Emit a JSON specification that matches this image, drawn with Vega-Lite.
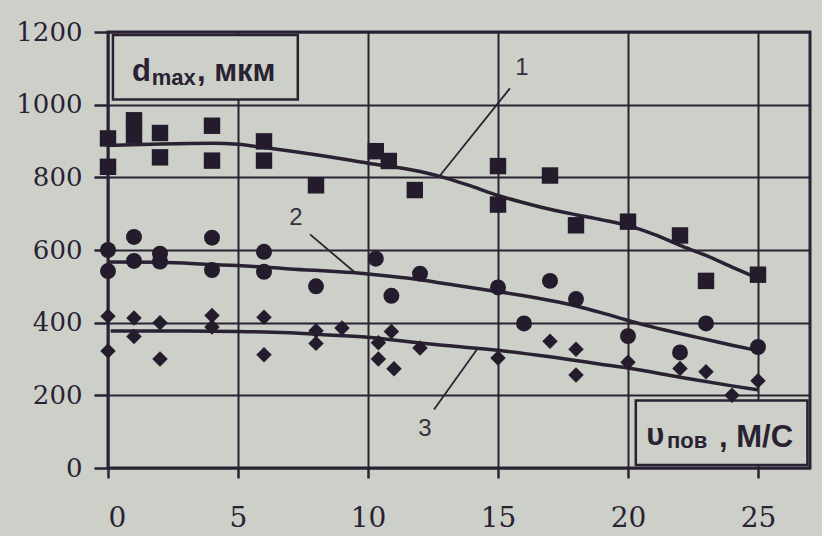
{
  "$schema": "https://vega.github.io/schema/vega-lite/v6.json",
  "width": 702,
  "height": 436,
  "autosize": {"type": "none"},
  "padding": {"left": 108, "top": 32, "right": 12, "bottom": 68},
  "background": "#cdd0c8",
  "config": {
    "view": {"fill": "#cdd0c8", "stroke": "#2a2233", "strokeWidth": 3},
    "axis": {
      "domain": false,
      "grid": true,
      "gridColor": "#2a2233",
      "gridOpacity": 1,
      "gridWidth": 2,
      "tickColor": "#2a2233",
      "tickWidth": 2.5,
      "labelColor": "#2a2233",
      "title": null
    }
  },
  "datasets": {
    "points": [
      {"series": "1", "x": 0, "y": 907}, {"series": "1", "x": 0, "y": 829},
      {"series": "1", "x": 1, "y": 957}, {"series": "1", "x": 1, "y": 916},
      {"series": "1", "x": 2, "y": 922}, {"series": "1", "x": 2, "y": 855},
      {"series": "1", "x": 4, "y": 942}, {"series": "1", "x": 4, "y": 846},
      {"series": "1", "x": 6, "y": 899}, {"series": "1", "x": 6, "y": 846},
      {"series": "1", "x": 8, "y": 778},
      {"series": "1", "x": 10.3, "y": 872}, {"series": "1", "x": 10.8, "y": 845},
      {"series": "1", "x": 11.8, "y": 765},
      {"series": "1", "x": 15, "y": 831}, {"series": "1", "x": 15, "y": 725},
      {"series": "1", "x": 17, "y": 805}, {"series": "1", "x": 18, "y": 668},
      {"series": "1", "x": 20, "y": 678}, {"series": "1", "x": 22, "y": 640},
      {"series": "1", "x": 23, "y": 515}, {"series": "1", "x": 25, "y": 532},
      {"series": "2", "x": 0, "y": 600}, {"series": "2", "x": 0, "y": 542},
      {"series": "2", "x": 1, "y": 636}, {"series": "2", "x": 1, "y": 570},
      {"series": "2", "x": 2, "y": 590}, {"series": "2", "x": 2, "y": 568},
      {"series": "2", "x": 4, "y": 634}, {"series": "2", "x": 4, "y": 545},
      {"series": "2", "x": 6, "y": 595}, {"series": "2", "x": 6, "y": 540},
      {"series": "2", "x": 8, "y": 500},
      {"series": "2", "x": 10.3, "y": 576}, {"series": "2", "x": 10.9, "y": 474},
      {"series": "2", "x": 12, "y": 535},
      {"series": "2", "x": 15, "y": 497}, {"series": "2", "x": 16, "y": 398},
      {"series": "2", "x": 17, "y": 515}, {"series": "2", "x": 18, "y": 465},
      {"series": "2", "x": 20, "y": 363}, {"series": "2", "x": 22, "y": 318},
      {"series": "2", "x": 23, "y": 398}, {"series": "2", "x": 25, "y": 333},
      {"series": "3", "x": 0, "y": 418}, {"series": "3", "x": 0, "y": 322},
      {"series": "3", "x": 1, "y": 413}, {"series": "3", "x": 1, "y": 362},
      {"series": "3", "x": 2, "y": 400}, {"series": "3", "x": 2, "y": 300},
      {"series": "3", "x": 4, "y": 420}, {"series": "3", "x": 4, "y": 388},
      {"series": "3", "x": 6, "y": 415}, {"series": "3", "x": 6, "y": 312},
      {"series": "3", "x": 8, "y": 378}, {"series": "3", "x": 8, "y": 343},
      {"series": "3", "x": 9, "y": 385},
      {"series": "3", "x": 10.4, "y": 345}, {"series": "3", "x": 10.4, "y": 300},
      {"series": "3", "x": 10.9, "y": 376}, {"series": "3", "x": 11, "y": 273},
      {"series": "3", "x": 12, "y": 330},
      {"series": "3", "x": 15, "y": 303}, {"series": "3", "x": 17, "y": 349},
      {"series": "3", "x": 18, "y": 327}, {"series": "3", "x": 18, "y": 256},
      {"series": "3", "x": 20, "y": 291}, {"series": "3", "x": 22, "y": 274},
      {"series": "3", "x": 23, "y": 265}, {"series": "3", "x": 24, "y": 200},
      {"series": "3", "x": 25, "y": 240}
    ],
    "curves": [
      {"series": "1", "x": 0, "y": 888}, {"series": "1", "x": 2, "y": 892},
      {"series": "1", "x": 4, "y": 894}, {"series": "1", "x": 5, "y": 891},
      {"series": "1", "x": 6, "y": 882}, {"series": "1", "x": 8, "y": 862},
      {"series": "1", "x": 10, "y": 839}, {"series": "1", "x": 12, "y": 816},
      {"series": "1", "x": 13, "y": 798}, {"series": "1", "x": 14, "y": 775},
      {"series": "1", "x": 15, "y": 750}, {"series": "1", "x": 16, "y": 730},
      {"series": "1", "x": 17, "y": 712}, {"series": "1", "x": 18, "y": 697},
      {"series": "1", "x": 19, "y": 683}, {"series": "1", "x": 20, "y": 667},
      {"series": "1", "x": 21, "y": 643}, {"series": "1", "x": 22, "y": 613},
      {"series": "1", "x": 23, "y": 585}, {"series": "1", "x": 24, "y": 553},
      {"series": "1", "x": 24.9, "y": 525},
      {"series": "2", "x": 0, "y": 567}, {"series": "2", "x": 2, "y": 566},
      {"series": "2", "x": 4, "y": 560}, {"series": "2", "x": 5, "y": 557},
      {"series": "2", "x": 7, "y": 548}, {"series": "2", "x": 10, "y": 534},
      {"series": "2", "x": 12, "y": 518}, {"series": "2", "x": 13, "y": 507},
      {"series": "2", "x": 15, "y": 485}, {"series": "2", "x": 16, "y": 474},
      {"series": "2", "x": 17, "y": 461}, {"series": "2", "x": 18, "y": 446},
      {"series": "2", "x": 19, "y": 427}, {"series": "2", "x": 20, "y": 406},
      {"series": "2", "x": 21, "y": 387}, {"series": "2", "x": 22, "y": 370},
      {"series": "2", "x": 23, "y": 354}, {"series": "2", "x": 24, "y": 338},
      {"series": "2", "x": 25, "y": 323},
      {"series": "3", "x": 0.1, "y": 377}, {"series": "3", "x": 3, "y": 377},
      {"series": "3", "x": 5, "y": 376}, {"series": "3", "x": 7, "y": 372},
      {"series": "3", "x": 8, "y": 368}, {"series": "3", "x": 10, "y": 360},
      {"series": "3", "x": 12, "y": 344}, {"series": "3", "x": 13, "y": 337},
      {"series": "3", "x": 15, "y": 324}, {"series": "3", "x": 17, "y": 306},
      {"series": "3", "x": 19, "y": 285}, {"series": "3", "x": 20, "y": 275},
      {"series": "3", "x": 22, "y": 250}, {"series": "3", "x": 24, "y": 226},
      {"series": "3", "x": 25, "y": 215}
    ],
    "boxes": [
      {"x": 0.19, "x2": 7.3, "y": 1014, "y2": 1192},
      {"x": 20.3, "x2": 26.9, "y": 8, "y2": 186}
    ],
    "leaders": [
      {"x": 15.46, "y": 1045, "x2": 12.77, "y2": 805},
      {"x": 7.77, "y": 643, "x2": 9.5, "y2": 538},
      {"x": 12.54, "y": 161, "x2": 14.23, "y2": 330}
    ],
    "curveLabels": [
      {"label": "1", "x": 15.92, "y": 1100},
      {"label": "2", "x": 7.23, "y": 687},
      {"label": "3", "x": 12.19, "y": 107}
    ],
    "boxText": [
      {"role": "main", "text": "d", "x": 0.92, "y": 1065},
      {"role": "sub", "text": "max", "x": 1.68, "y": 1053},
      {"role": "main", "text": ", мкм", "x": 3.42, "y": 1065},
      {"role": "main", "text": "υ", "x": 20.7, "y": 63},
      {"role": "sub", "text": "пов", "x": 21.5, "y": 55},
      {"role": "main", "text": ", М/С", "x": 23.5, "y": 58}
    ]
  },
  "encoding": {
    "x": {
      "type": "quantitative",
      "scale": {"domain": [0, 27], "nice": false, "zero": false},
      "axis": {"values": [0, 5, 10, 15, 20, 25], "format": "d", "tickSize": 10, "labelFont": "DejaVu Serif", "labelFontSize": 28, "labelPadding": 26}
    },
    "y": {
      "type": "quantitative",
      "scale": {"domain": [0, 1200], "nice": false},
      "axis": {"values": [0, 200, 400, 600, 800, 1000, 1200], "format": "d", "tickSize": 14, "labelFont": "DejaVu Serif", "labelFontSize": 26, "labelPadding": 12}
    }
  },
  "layer": [
    {
      "data": {"name": "boxes"},
      "mark": {"type": "rect", "fill": "#cdd0c8", "stroke": "#2a2233", "strokeWidth": 2.5},
      "encoding": {
        "x": {"field": "x", "type": "quantitative"},
        "x2": {"field": "x2"},
        "y": {"field": "y", "type": "quantitative"},
        "y2": {"field": "y2"}
      }
    },
    {
      "data": {"name": "curves"},
      "mark": {"type": "line", "color": "#2a2233", "strokeWidth": 3.5, "interpolate": "monotone"},
      "encoding": {
        "x": {"field": "x", "type": "quantitative"},
        "y": {"field": "y", "type": "quantitative"},
        "detail": {"field": "series"}
      }
    },
    {
      "data": {"name": "leaders"},
      "mark": {"type": "rule", "color": "#2a2233", "strokeWidth": 1.8},
      "encoding": {
        "x": {"field": "x", "type": "quantitative"},
        "y": {"field": "y", "type": "quantitative"},
        "x2": {"field": "x2"},
        "y2": {"field": "y2"}
      }
    },
    {
      "data": {"name": "points"},
      "mark": {"type": "point", "filled": true, "color": "#241c2c", "opacity": 1},
      "encoding": {
        "x": {"field": "x", "type": "quantitative"},
        "y": {"field": "y", "type": "quantitative"},
        "shape": {"field": "series", "type": "nominal", "scale": {"domain": ["1", "2", "3"], "range": ["square", "circle", "diamond"]}, "legend": null},
        "size": {"field": "series", "type": "nominal", "scale": {"domain": ["1", "2", "3"], "range": [270, 240, 320]}, "legend": null}
      }
    },
    {
      "data": {"name": "curveLabels"},
      "mark": {"type": "text", "font": "Liberation Sans", "fontSize": 24, "color": "#35303c", "align": "center", "baseline": "middle"},
      "encoding": {
        "x": {"field": "x", "type": "quantitative"},
        "y": {"field": "y", "type": "quantitative"},
        "text": {"field": "label"}
      }
    },
    {
      "data": {"name": "boxText"},
      "transform": [{"filter": "datum.role === 'main'"}],
      "mark": {"type": "text", "font": "Liberation Sans", "fontSize": 31, "fontWeight": "bold", "color": "#2a2233", "align": "left", "baseline": "alphabetic"},
      "encoding": {
        "x": {"field": "x", "type": "quantitative"},
        "y": {"field": "y", "type": "quantitative"},
        "text": {"field": "text"}
      }
    },
    {
      "data": {"name": "boxText"},
      "transform": [{"filter": "datum.role === 'sub'"}],
      "mark": {"type": "text", "font": "Liberation Sans", "fontSize": 22, "fontWeight": "bold", "color": "#2a2233", "align": "left", "baseline": "alphabetic"},
      "encoding": {
        "x": {"field": "x", "type": "quantitative"},
        "y": {"field": "y", "type": "quantitative"},
        "text": {"field": "text"}
      }
    }
  ]
}
